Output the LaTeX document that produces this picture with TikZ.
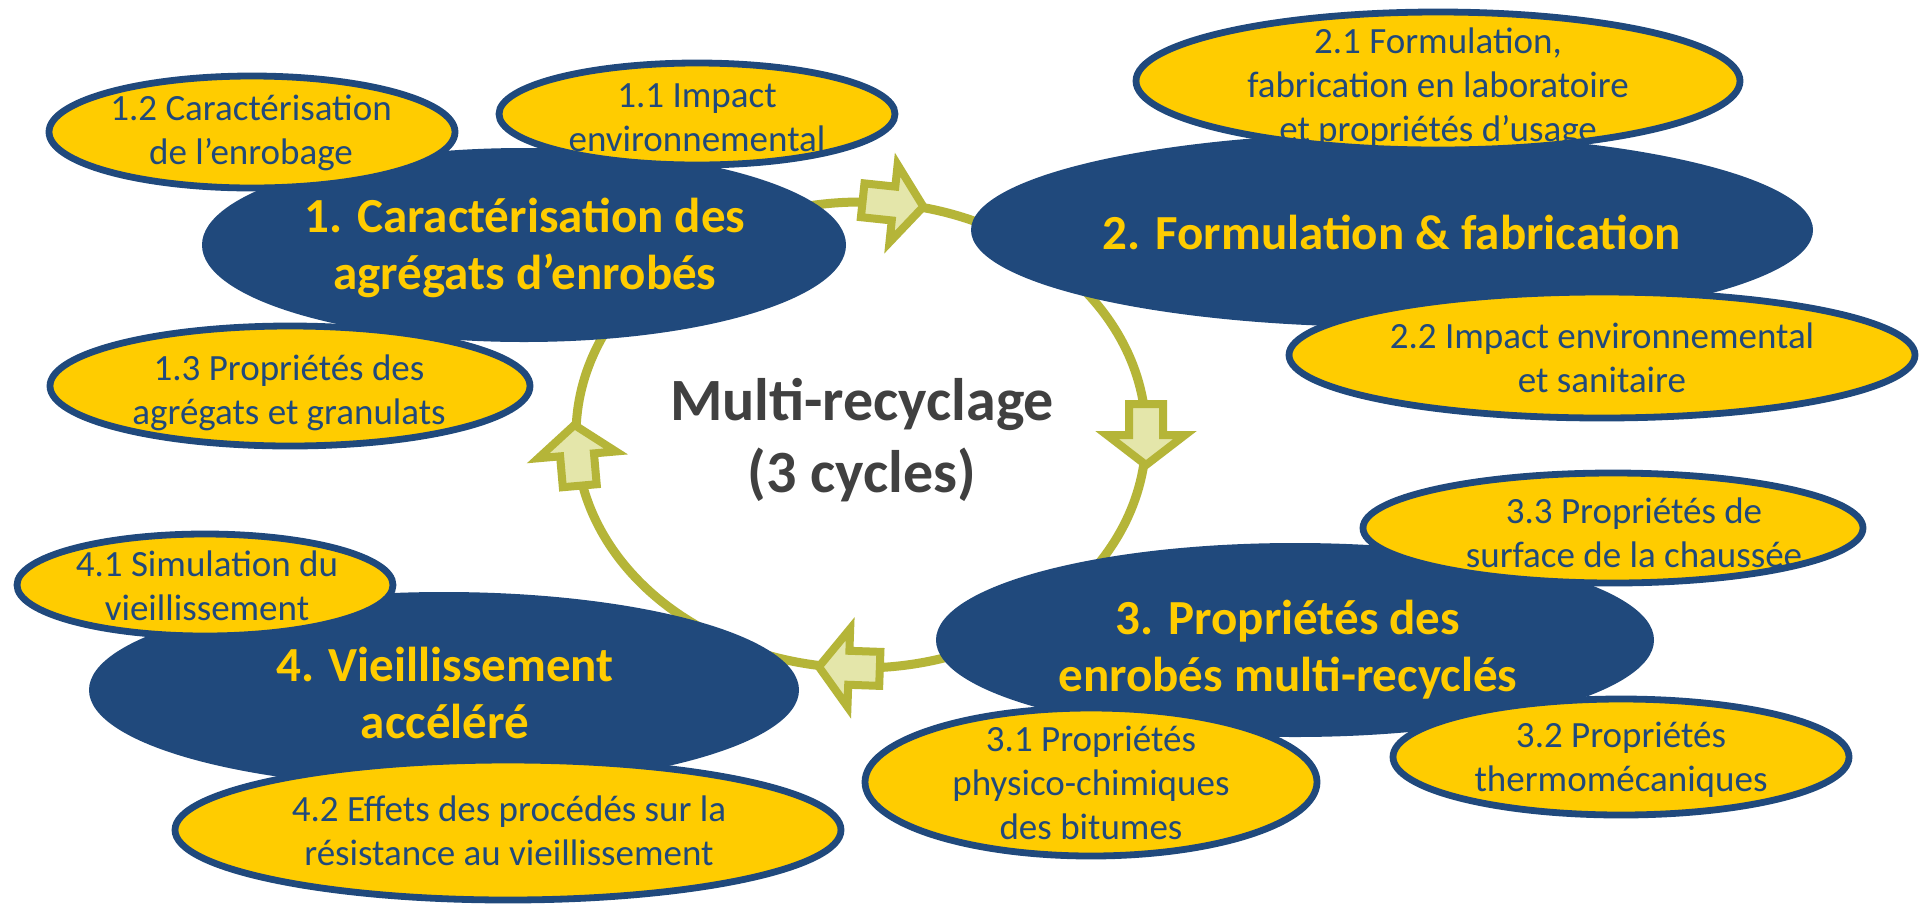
\documentclass[tikz,border=0pt]{standalone}
\usepackage{fontspec}
\setmainfont{Carlito}
\usetikzlibrary{shapes.geometric}
\definecolor{navy}{RGB}{32,73,124}
\definecolor{gold}{RGB}{255,204,0}
\definecolor{olive}{RGB}{181,181,56}
\definecolor{palegreen}{RGB}{228,230,170}
\definecolor{darkgraytxt}{RGB}{64,64,64}
\newcommand\blockarrowat[2]{%
  \begin{scope}[shift={(#1)},rotate=#2]
    \draw[arrowstyle] (-15.5pt,-8.5pt) -- (0pt,-8.5pt) -- (0pt,-19.5pt) -- (15pt,0pt)
      -- (0pt,19.5pt) -- (0pt,8.5pt) -- (-15.5pt,8.5pt) -- cycle;
  \end{scope}}
\begin{document}
\begin{tikzpicture}[x=0.5pt,y=-0.5pt,
  mainell/.style={ellipse, fill=navy, draw=none, inner sep=0pt, outer sep=0pt},
  subell/.style={ellipse, fill=gold, draw=navy, line width=3.4pt, inner sep=0pt, outer sep=0pt},
  maintxt/.style={text=gold, font=\fontsize{24.5}{28.5}\selectfont\bfseries, align=center, inner sep=0pt},
  subtxt/.style={text=navy, font=\fontsize{18.5}{22}\selectfont, align=center, inner sep=0pt},
  centertxt/.style={text=darkgraytxt, font=\fontsize{30}{36}\selectfont\bfseries, align=center, inner sep=0pt},
  ringstyle/.style={ellipse, draw=olive, line width=4.5pt, inner sep=0pt, outer sep=0pt},
  arrowstyle/.style={draw=olive, fill=palegreen, line width=4pt, miter limit=10}]
\fill[white] (0,0) rectangle (1921,906);
\useasboundingbox (0,0) rectangle (1921,906);

% cycle ring
\node[ringstyle, minimum width=285pt, minimum height=233pt] (ring) at (861,435) {};
\blockarrowat{ring.82}{-6}
\blockarrowat{ring.0}{-90}
\blockarrowat{ring.267}{178}
\blockarrowat{ring.184.5}{95}

% main ellipses
\node[mainell, minimum width=322pt, minimum height=97pt] (e1) at (524,245) {};
\node[mainell, minimum width=421pt, minimum height=97pt] (e2) at (1392,230) {};
\node[mainell, minimum width=359pt, minimum height=97pt] (e3) at (1295,640) {};
\node[mainell, minimum width=355pt, minimum height=98pt] (e4) at (444,690) {};

% sub ellipses
\node[subell, minimum width=198pt, minimum height=51pt] (s11) at (697,114) {};
\node[subell, minimum width=203pt, minimum height=56pt] (s12) at (252,132) {};
\node[subell, minimum width=240pt, minimum height=60pt] (s13) at (290,386) {};
\node[subell, minimum width=302pt, minimum height=69pt] (s21) at (1438,81) {};
\node[subell, minimum width=313pt, minimum height=63pt] (s22) at (1602,355) {};
\node[subell, minimum width=226pt, minimum height=74pt] (s31) at (1091,782) {};
\node[subell, minimum width=228pt, minimum height=58pt] (s32) at (1621,757) {};
\node[subell, minimum width=250pt, minimum height=55pt] (s33) at (1613,528) {};
\node[subell, minimum width=188pt, minimum height=51pt] (s41) at (205,585) {};
\node[subell, minimum width=333pt, minimum height=70pt] (s42) at (508,830) {};

% texts
\node[centertxt] (tc) at (862,440) {Multi-recyclage\\(3 cycles)};
\node[maintxt] (t1) at (525,248) {1. Caractérisation des\\agrégats d’enrobés};
\node[maintxt] (t2) at (1392,232) {2. Formulation \& fabrication};
\node[maintxt] (t3) at (1288,650) {3. Propriétés des\\enrobés multi-recyclés};
\node[maintxt] (t4) at (445,693) {4. Vieillissement\\accéléré};

\node[subtxt] (u11) at (697,118) {1.1 Impact\\environnemental};
\node[subtxt] (u12) at (251,133) {1.2 Caractérisation\\de l’enrobage};
\node[subtxt] (u13) at (289,393) {1.3 Propriétés des\\agrégats et granulats};
\node[subtxt] (u21) at (1438,88) {2.1 Formulation,\\fabrication en laboratoire\\et propriétés d’usage};
\node[subtxt] (u22) at (1602,358) {2.2 Impact environnemental\\et sanitaire};
\node[subtxt] (u31) at (1091,783) {3.1 Propriétés\\physico-chimiques\\des bitumes};
\node[subtxt] (u32) at (1621,760) {3.2 Propriétés\\thermomécaniques};
\node[subtxt] (u33) at (1634,533) {3.3 Propriétés de\\surface de la chaussée};
\node[subtxt] (u41) at (207,586) {4.1 Simulation du\\vieillissement};
\node[subtxt] (u42) at (509,831) {4.2 Effets des procédés sur la\\résistance au vieillissement};
\end{tikzpicture}
\end{document}
